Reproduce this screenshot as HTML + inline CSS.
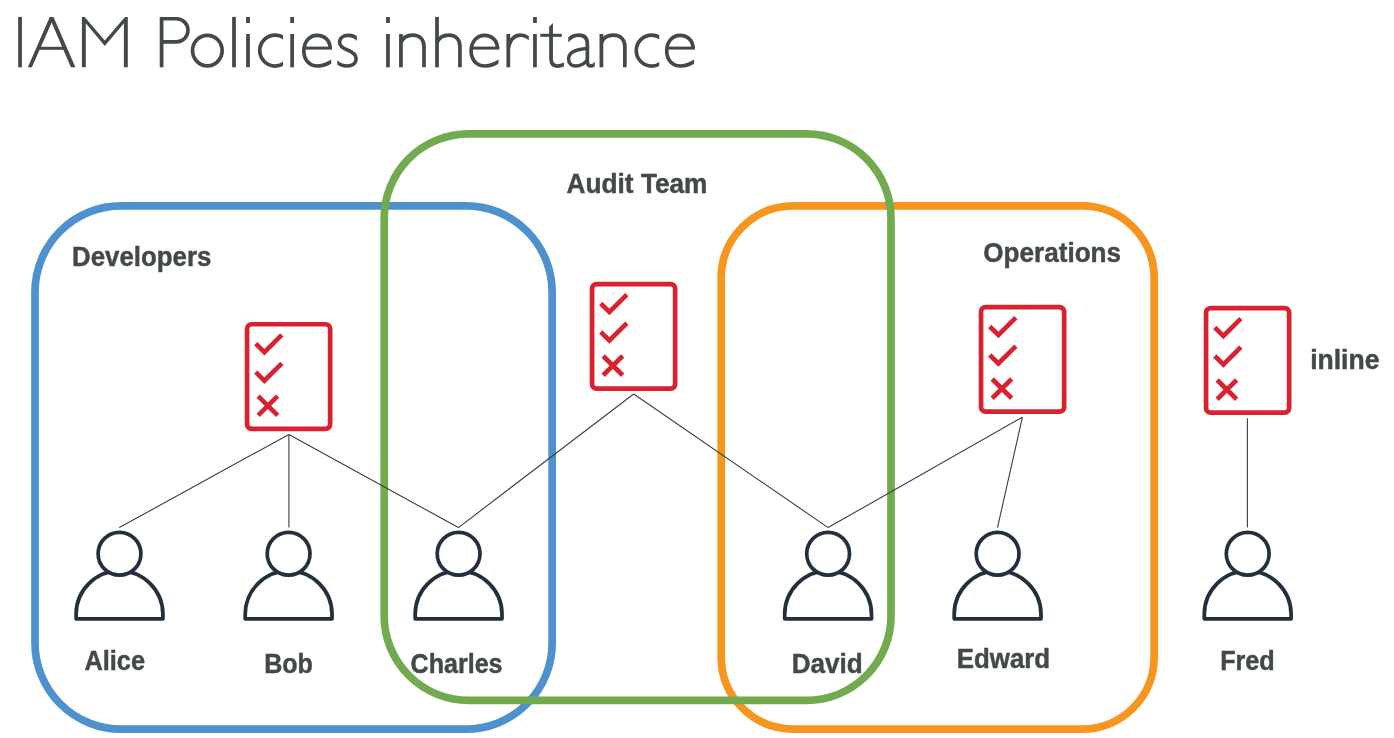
<!DOCTYPE html>
<html><head><meta charset="utf-8"><title>IAM Policies inheritance</title>
<style>
html,body{margin:0;padding:0;background:#fff;}
body{width:1394px;height:738px;overflow:hidden;position:relative;}
svg{position:absolute;left:0;top:0;}
text{font-family:"Liberation Sans",sans-serif;font-weight:bold;font-size:27.5px;fill:#424948;stroke:#424948;stroke-width:0.45px;}
.tl{will-change:transform;}
</style></head><body>
<svg width="1394" height="738" viewBox="0 0 1394 738">
<g fill="none" stroke-width="7.7">
<path d="M121.20,205.90 H465.95 A86.2,86.2 0 0 1 552.15,292.10 V642.90 A86.2,86.2 0 0 1 465.95,729.10 H121.20 A86.2,86.2 0 0 1 35.00,642.90 V292.10 A86.2,86.2 0 0 1 121.20,205.90 Z" stroke="#4d91ce"/>
<path d="M793.40,205.90 H1081.95 A72.2,72.2 0 0 1 1154.15,278.10 V656.90 A72.2,72.2 0 0 1 1081.95,729.10 H793.40 A72.2,72.2 0 0 1 721.20,656.90 V278.10 A72.2,72.2 0 0 1 793.40,205.90 Z" stroke="#f7961e"/>
<path d="M468.70,133.80 H806.50 A84.5,84.5 0 0 1 891.00,218.30 V615.90 A84.5,84.5 0 0 1 806.50,700.40 H468.70 A84.5,84.5 0 0 1 384.20,615.90 V218.30 A84.5,84.5 0 0 1 468.70,133.80 Z" stroke="#71aa4f"/>
</g>
<defs><clipPath id="clc257"><rect x="252.89999999999998" y="20" width="30.0" height="60"/></clipPath><clipPath id="clc634"><rect x="629.4" y="20" width="29.800000000000068" height="60"/></clipPath><clipPath id="cle301"><path d="M298.9,20 H336.9 V55 H331.2 V75 H298.9 Z"/></clipPath><clipPath id="cle469"><path d="M466.2,20 H504.2 V55 H498.5 V75 H466.2 Z"/></clipPath><clipPath id="cle664"><path d="M661.8,20 H699.8 V55 H694.0999999999999 V75 H661.8 Z"/></clipPath><clipPath id="cls"><path d="M330,20 H356.8 V46 H365 V75 H337.3 V54 H330 Z"/></clipPath><clipPath id="clr"><rect x="500" y="20" width="28.8" height="55"/></clipPath><clipPath id="clt"><rect x="540" y="20" width="23.9" height="55"/></clipPath><clipPath id="cla"><path d="M568.3,20 H600 V55 H594.8 V75 H560 V46 H568.3 Z"/></clipPath></defs>
<g fill="none" stroke="#424948" stroke-linecap="butt" stroke-linejoin="miter">
<path d="M20.05,16.9 V67.3" stroke-width="3.75"/>
<path d="M161.6,16.9 V67.3" stroke-width="3.75"/>
<path d="M161.6,18.75 H176.45 A11.55,11.55 0 0 1 176.45,41.85 H161.6" stroke-width="3.6"/>
<ellipse cx="207.35" cy="50.6" rx="14.8" ry="15.25" stroke-width="3.7"/>
<path d="M234,16.9 V67.3" stroke-width="3.75"/>
<path d="M248,34 V67.3" stroke-width="3.75"/>
<rect x="246.1" y="17" width="3.8" height="6" fill="#424948" stroke="none"/>
<path d="M292.15,34 V67.3" stroke-width="3.75"/>
<rect x="290.25" y="17" width="3.8" height="6" fill="#424948" stroke="none"/>
<path d="M387.95,34 V67.3" stroke-width="3.75"/>
<rect x="386.05" y="17" width="3.8" height="6" fill="#424948" stroke="none"/>
<path d="M534.95,34 V67.3" stroke-width="3.75"/>
<rect x="533.0500000000001" y="17" width="3.8" height="6" fill="#424948" stroke="none"/>
<g clip-path="url(#clc257)"><circle cx="275.2" cy="50.6" r="15.45" stroke-width="3.7"/></g>
<g clip-path="url(#clc634)"><circle cx="651.6999999999999" cy="50.6" r="15.45" stroke-width="3.7"/></g>
<g clip-path="url(#cle301)"><path d="M330.10,48.1 C330.10,40.3 324.50,35.4 317.10,35.4 C309.20,35.4 303.80,42.2 303.80,50.8 C303.80,60.2 309.70,66 317.90,66 C323.40,66 327.90,64 332.90,60.5" stroke-width="3.7"/></g>
<path d="M303.80,48.1 H332.00" stroke-width="3.0"/>
<g clip-path="url(#cle469)"><path d="M497.40,48.1 C497.40,40.3 491.80,35.4 484.40,35.4 C476.50,35.4 471.10,42.2 471.10,50.8 C471.10,60.2 477.00,66 485.20,66 C490.70,66 495.20,64 500.20,60.5" stroke-width="3.7"/></g>
<path d="M471.10,48.1 H499.30" stroke-width="3.0"/>
<g clip-path="url(#cle664)"><path d="M693.00,48.1 C693.00,40.3 687.40,35.4 680.00,35.4 C672.10,35.4 666.70,42.2 666.70,50.8 C666.70,60.2 672.60,66 680.80,66 C686.30,66 690.80,64 695.80,60.5" stroke-width="3.7"/></g>
<path d="M666.70,48.1 H694.90" stroke-width="3.0"/>
<g clip-path="url(#cls)"><path d="M358.5,39.8 C355.5,36.5 351.8,35.4 348.3,35.4 C343,35.4 339.6,38.2 339.6,42.2 C339.6,46.2 342.5,48 347.5,50 C353,52.2 356.1,54.2 356.1,58.6 C356.1,63.2 352.5,66 347.2,66 C343.2,66 339.2,64.5 336,61.5" stroke-width="3.6"/></g>
<path d="M400.95,34 V67.3" stroke-width="3.75"/>
<path d="M400.95,42.5 C403.0,37.8 407.5,35.15 412.8,35.15 C419.8,35.15 424,39.5 424,46.5 V67.3" stroke-width="3.7"/>
<path d="M437,16.9 V67.3" stroke-width="3.75"/>
<path d="M437,42.5 C439.05,37.8 443.55,35.15 448.85,35.15 C455.75,35.15 459.95,39.5 459.95,46.5 V67.3" stroke-width="3.7"/>
<path d="M601.4,34 V67.3" stroke-width="3.75"/>
<path d="M601.4,42.5 C603.4499999999999,37.8 607.9499999999999,35.15 613.25,35.15 C620.65,35.15 624.85,39.5 624.85,46.5 V67.3" stroke-width="3.7"/>
<path d="M508.3,34 V67.3" stroke-width="3.75"/>
<g clip-path="url(#clr)"><path d="M508.3,47.5 C510.3,39.8 514.8,35.15 520.5,35.15 C524.5,35.15 527.6,36.6 530.5,39.5" stroke-width="3.6"/></g>
<path d="M549.15,26.8 L552.95,22.9 L552.95,27.2 L549.15,27.2 Z" fill="#424948" stroke="none"/>
<g clip-path="url(#clt)"><path d="M551.05,26.8 V58.5 C551.05,64 553.3,66 557.5,66 C560,66 562.5,65.2 565.5,63.8" stroke-width="3.75"/></g>
<path d="M540.3,35.3 H561.8" stroke-width="3.0"/>
<g clip-path="url(#cla)"><path d="M566.8,41.5 C569.8,37.3 573.8,35.15 579,35.15 C584.8,35.15 587.35,38.5 587.35,44 V61 C587.35,64.5 589,66 590.9,66 C592.8,66 594.5,65 596.5,62.8" stroke-width="3.7"/></g>
<path d="M587.35,48.6 C577.5,49.2 568.6,52.2 568.6,59 C568.6,63.6 571.6,66 575.6,66 C581,66 585,63 587.35,60" stroke-width="3.5"/>
</g>
<g fill="#424948">
<path d="M27.8,67.3 L49.8,16.9 L53.5,16.9 L75.4,67.3 L70.9,67.3 L51.65,22.5 L31.9,67.3 Z"/>
<rect x="38" y="46.8" width="27" height="3"/>
<path d="M81.9,67.3 L81.9,16.9 L84.6,16.9 L104.8,40.6 L125.0,16.9 L127.8,16.9 L127.8,67.3 L123.9,67.3 L123.9,23.3 L104.8,45.9 L85.8,23.3 L85.8,67.3 Z"/>
</g>
<g class="tl" opacity="0.999"><text transform="translate(73.80 265.80) scale(0.9408 1)" x="-1.93" y="0">Developers</text>
<text transform="translate(567.40 192.70) scale(0.9539 1)" x="-0.83" y="0">Audit Team</text>
<text transform="translate(984.30 262.40) scale(0.9497 1)" x="-1.10" y="0">Operations</text>
<text transform="translate(1312.00 368.70) scale(0.9649 1)" x="-1.93" y="0">inline</text>
<text transform="translate(85.20 669.80) scale(0.9224 1)" x="-0.83" y="0">Alice</text>
<text transform="translate(265.90 673.00) scale(0.9121 1)" x="-1.93" y="0">Bob</text>
<text transform="translate(411.60 672.90) scale(0.9116 1)" x="-1.10" y="0">Charles</text>
<text transform="translate(793.50 673.00) scale(0.9491 1)" x="-1.93" y="0">David</text>
<text transform="translate(958.60 667.90) scale(0.9400 1)" x="-1.93" y="0">Edward</text>
<text transform="translate(1221.90 669.80) scale(0.9172 1)" x="-1.93" y="0">Fred</text></g>
<path d="M288.9,434.4 L119.3,527.6 M288.9,434.4 L288.9,527.6 M288.9,434.4 L458.4,527.6 M633.7,394.0 L458.4,527.6 M633.7,394.0 L828.1,527.6 M1022.4,417.2 L828.1,527.6 M1022.4,417.2 L997.5,527.6 M1247.4,418.3 L1247.4,527.6" fill="none" stroke="#3a3d40" stroke-width="1.1" stroke-linejoin="round"/>
<rect x="247.05" y="324.25" width="83.10" height="104.60" rx="4.5" fill="#fff" stroke="#d9222f" stroke-width="4.7"/>
<path d="M255.75,343.70 L264.40,352.20 L281.85,334.85 M255.75,372.20 L264.40,380.70 L281.85,363.35 M258.15,396.20 L277.65,415.45 M277.65,396.20 L258.15,415.45" fill="none" stroke="#d9222f" stroke-width="4.6" stroke-linejoin="miter" stroke-linecap="butt"/>
<rect x="592.05" y="284.05" width="83.10" height="104.60" rx="4.5" fill="#fff" stroke="#d9222f" stroke-width="4.7"/>
<path d="M600.75,303.50 L609.40,312.00 L626.85,294.65 M600.75,332.00 L609.40,340.50 L626.85,323.15 M603.15,356.00 L622.65,375.25 M622.65,356.00 L603.15,375.25" fill="none" stroke="#d9222f" stroke-width="4.6" stroke-linejoin="miter" stroke-linecap="butt"/>
<rect x="981.05" y="307.05" width="83.10" height="104.60" rx="4.5" fill="#fff" stroke="#d9222f" stroke-width="4.7"/>
<path d="M989.75,326.50 L998.40,335.00 L1015.85,317.65 M989.75,355.00 L998.40,363.50 L1015.85,346.15 M992.15,379.00 L1011.65,398.25 M1011.65,379.00 L992.15,398.25" fill="none" stroke="#d9222f" stroke-width="4.6" stroke-linejoin="miter" stroke-linecap="butt"/>
<rect x="1206.05" y="308.05" width="83.10" height="104.60" rx="4.5" fill="#fff" stroke="#d9222f" stroke-width="4.7"/>
<path d="M1214.75,327.50 L1223.40,336.00 L1240.85,318.65 M1214.75,356.00 L1223.40,364.50 L1240.85,347.15 M1217.15,380.00 L1236.65,399.25 M1236.65,380.00 L1217.15,399.25" fill="none" stroke="#d9222f" stroke-width="4.6" stroke-linejoin="miter" stroke-linecap="butt"/>
<path d="M76.10,618.75 V614.3 A43.4,43.4 0 0 1 162.90,614.3 V618.75 Z" fill="#fff" stroke="#232f3e" stroke-width="3.75" stroke-linejoin="round"/>
<circle cx="119.50" cy="553.8" r="21.4" fill="#fff" stroke="#232f3e" stroke-width="3.7"/><path d="M245.20,618.75 V614.3 A43.4,43.4 0 0 1 332.00,614.3 V618.75 Z" fill="#fff" stroke="#232f3e" stroke-width="3.75" stroke-linejoin="round"/>
<circle cx="288.60" cy="553.8" r="21.4" fill="#fff" stroke="#232f3e" stroke-width="3.7"/><path d="M415.20,618.75 V614.3 A43.4,43.4 0 0 1 502.00,614.3 V618.75 Z" fill="#fff" stroke="#232f3e" stroke-width="3.75" stroke-linejoin="round"/>
<circle cx="458.60" cy="553.8" r="21.4" fill="#fff" stroke="#232f3e" stroke-width="3.7"/><path d="M784.70,618.75 V614.3 A43.4,43.4 0 0 1 871.50,614.3 V618.75 Z" fill="#fff" stroke="#232f3e" stroke-width="3.75" stroke-linejoin="round"/>
<circle cx="828.10" cy="553.8" r="21.4" fill="#fff" stroke="#232f3e" stroke-width="3.7"/><path d="M954.20,618.75 V614.3 A43.4,43.4 0 0 1 1041.00,614.3 V618.75 Z" fill="#fff" stroke="#232f3e" stroke-width="3.75" stroke-linejoin="round"/>
<circle cx="997.60" cy="553.8" r="21.4" fill="#fff" stroke="#232f3e" stroke-width="3.7"/><path d="M1204.30,618.75 V614.3 A43.4,43.4 0 0 1 1291.10,614.3 V618.75 Z" fill="#fff" stroke="#232f3e" stroke-width="3.75" stroke-linejoin="round"/>
<circle cx="1247.70" cy="553.8" r="21.4" fill="#fff" stroke="#232f3e" stroke-width="3.7"/>
</svg>
</body></html>
